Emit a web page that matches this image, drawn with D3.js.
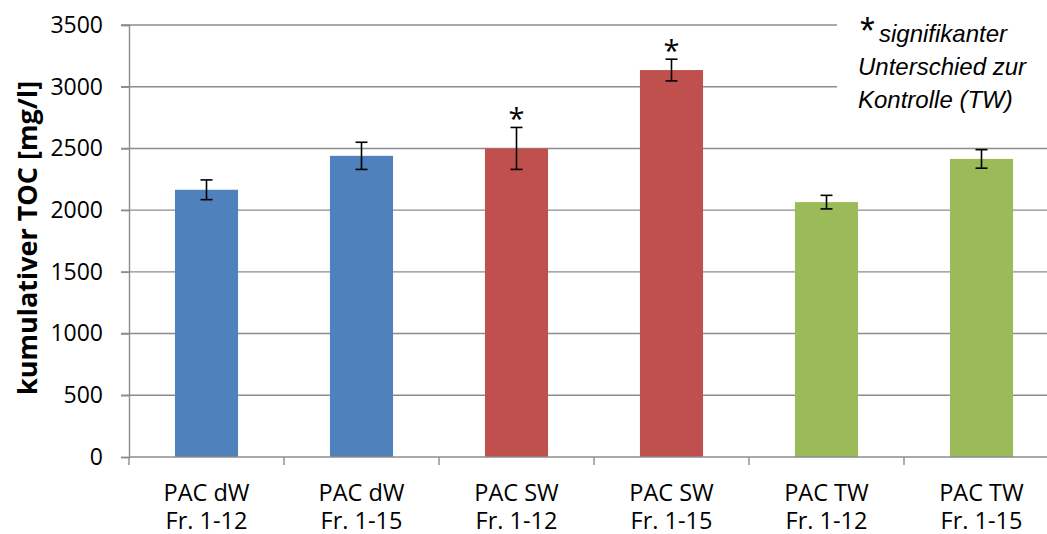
<!DOCTYPE html>
<html>
  <head>
    <meta charset="utf-8" />
    <title>kumulativer TOC</title>
    <script src="https://d3js.org/d3.v7.min.js"></script>
    <style>
      body { margin: 0; background: #fff; }
      text { font-family: "Open Sans", sans-serif; fill: #000; }
    </style>
  </head>
  <body>
    <svg id="chart"></svg>
    <script>
      // data
      var labelTop = ["PAC dW", "PAC dW", "PAC SW", "PAC SW", "PAC TW", "PAC TW"];
      var labelBottom = ["Fr. 1-12", "Fr. 1-15", "Fr. 1-12", "Fr. 1-15", "Fr. 1-12", "Fr. 1-15"];
      var values = [2165, 2440, 2500, 3135, 2065, 2415];
      var errors = [80, 110, 170, 88, 55, 75];
      var significant = [false, false, true, true, false, false];
      var groupColors = ["#4F81BD", "#4F81BD", "#C0504D", "#C0504D", "#9BBB59", "#9BBB59"];
      var yTicks = [0, 500, 1000, 1500, 2000, 2500, 3000, 3500];

      var width = 1047, height = 534;
      var margin = { top: 25, left: 129, bottom: 77 };
      var plotRight = margin.left + 6 * 155; // plot runs past the right edge

      var svg = d3.select("#chart").attr("width", width).attr("height", height);

      var x = d3.scaleBand()
        .domain(d3.range(values.length))
        .range([margin.left, plotRight])
        .paddingInner(0.593)
        .paddingOuter(0.2965);

      var y = d3.scaleLinear()
        .domain([0, 3500])
        .range([height - margin.bottom, margin.top]);

      // gridlines
      svg.append("g").selectAll("line")
        .data(yTicks.filter(function(d) { return d > 0; }))
        .enter().append("line")
        .attr("x1", margin.left - 8).attr("x2", plotRight)
        .attr("y1", function(d) { return y(d); })
        .attr("y2", function(d) { return y(d); })
        .attr("stroke", "#8c8c8c").attr("stroke-width", 1.4);

      // y axis
      var yAxis = d3.axisLeft(y).tickValues(yTicks).tickSize(8).tickPadding(18)
        .tickFormat(d3.format("d"));
      var gy = svg.append("g").attr("transform", "translate(" + margin.left + ",0)").call(yAxis);
      gy.selectAll("line, path").attr("stroke", "#8c8c8c").attr("stroke-width", 1.4);
      gy.selectAll("text").style("font-size", "23px").style("font-family", "'Open Sans', sans-serif").attr("fill", "#000");

      // bars
      svg.append("g").selectAll("rect")
        .data(values)
        .enter().append("rect")
        .attr("x", function(d, i) { return x(i); })
        .attr("width", x.bandwidth())
        .attr("y", function(d) { return y(d); })
        .attr("height", function(d) { return y(0) - y(d); })
        .attr("fill", function(d, i) { return groupColors[i]; });

      // x axis line and ticks between categories
      var xa = svg.append("g");
      xa.append("line")
        .attr("x1", margin.left).attr("x2", plotRight)
        .attr("y1", y(0)).attr("y2", y(0))
        .attr("stroke", "#8c8c8c").attr("stroke-width", 1.4);
      xa.selectAll(".tick")
        .data(d3.range(values.length + 1))
        .enter().append("line")
        .attr("x1", function(i) { return margin.left + i * x.step(); })
        .attr("x2", function(i) { return margin.left + i * x.step(); })
        .attr("y1", y(0)).attr("y2", y(0) + 8)
        .attr("stroke", "#8c8c8c").attr("stroke-width", 1.4);

      // category labels
      var labels = svg.append("g").selectAll("text")
        .data(values)
        .enter().append("text")
        .attr("text-anchor", "middle")
        .style("font-size", "23.5px")
        .attr("x", function(d, i) { return x(i) + x.bandwidth() / 2; });
      labels.append("tspan").attr("y", 501).text(function(d, i) { return labelTop[i]; });
      labels.append("tspan")
        .attr("x", function(d, i) { return x(i) + x.bandwidth() / 2; })
        .attr("y", 529).text(function(d, i) { return labelBottom[i]; });

      // error bars
      var eb = svg.append("g").attr("stroke", "#000").attr("stroke-width", 1.6);
      values.forEach(function(v, i) {
        var cx = x(i) + x.bandwidth() / 2;
        var hi = y(v + errors[i]), lo = y(v - errors[i]);
        eb.append("line").attr("x1", cx).attr("x2", cx).attr("y1", hi).attr("y2", lo);
        eb.append("line").attr("x1", cx - 6).attr("x2", cx + 6).attr("y1", hi).attr("y2", hi);
        eb.append("line").attr("x1", cx - 6).attr("x2", cx + 6).attr("y1", lo).attr("y2", lo);
        if (significant[i]) {
          svg.append("text")
            .attr("x", cx).attr("y", hi + 2)
            .attr("text-anchor", "middle")
            .style("font-size", "29px")
            .text("*");
        }
      });

      // y title
      svg.append("text")
        .attr("transform", "translate(37,238) rotate(-90)")
        .attr("text-anchor", "middle")
        .style("font-size", "27px")
        .style("font-weight", "bold")
        .text("kumulativer TOC [mg/l]");

      // note box
      svg.append("rect")
        .attr("x", 837).attr("y", 8).attr("width", 210).attr("height", 118)
        .attr("fill", "#fff");
      var note = svg.append("g");
      note.append("text").attr("x", 860).attr("y", 44).style("font-size", "38px")
        .style("font-family", "'Liberation Sans', Arial, sans-serif").text("*");
      note.append("text").attr("x", 879).attr("y", 42).style("font-size", "24px").style("font-style", "italic")
        .style("font-family", "'Liberation Sans', Arial, sans-serif").text("signifikanter");
      note.append("text").attr("x", 858).attr("y", 75).style("font-size", "24px").style("font-style", "italic")
        .style("font-family", "'Liberation Sans', Arial, sans-serif").text("Unterschied zur");
      note.append("text").attr("x", 858).attr("y", 108).style("font-size", "24px").style("font-style", "italic")
        .style("font-family", "'Liberation Sans', Arial, sans-serif").text("Kontrolle (TW)");
    </script>
  </body>
</html>
